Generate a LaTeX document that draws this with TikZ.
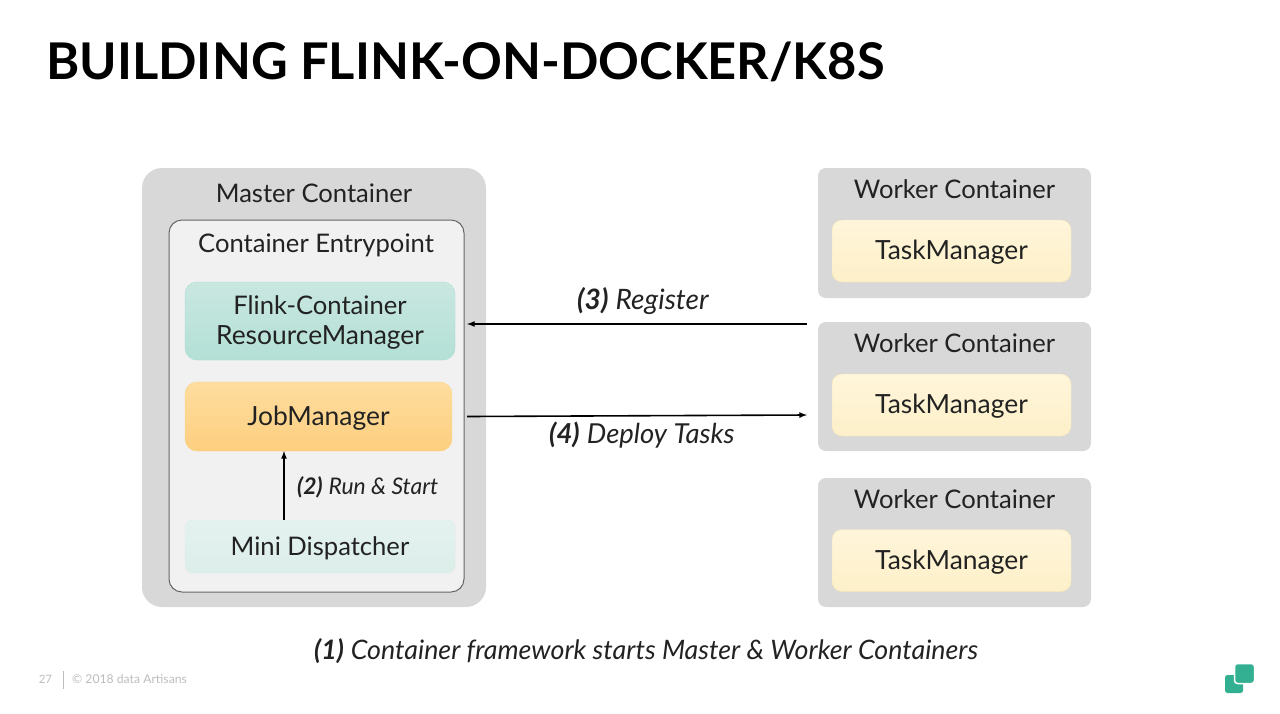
\documentclass[tikz,border=0pt]{standalone}
\usepackage{fontspec}
\setmainfont{Lato}
\definecolor{wall}{HTML}{D8D8D8}
\definecolor{entryfill}{HTML}{F1F1F1}
\definecolor{ink}{HTML}{222222}
\definecolor{foot}{HTML}{BDBDBD}
\definecolor{logo}{HTML}{33B092}
\definecolor{rmtop}{HTML}{C9E7E0}
\definecolor{rmbot}{HTML}{B3E0D6}
\definecolor{rmedge}{HTML}{A9DDD0}
\definecolor{jmtop}{HTML}{FEDD9F}
\definecolor{jmbot}{HTML}{FDCF7F}
\definecolor{jmedge}{HTML}{FBD585}
\definecolor{minitop}{HTML}{E4F2EF}
\definecolor{minibot}{HTML}{DCEEE9}
\definecolor{miniedge}{HTML}{D6ECE6}
\definecolor{tmtop}{HTML}{FFF5DA}
\definecolor{tmbot}{HTML}{FDF0C9}
\definecolor{tmedge}{HTML}{F7E7B5}
\tikzset{
	box/.style={rounded corners=#1, inner sep=0pt, outer sep=0pt, align=center, text=ink, font=\fontsize{26.4}{30}\selectfont, text height=22pt, text depth=5pt},
	wallbox/.style={box=#1, fill=wall},
	tmbox/.style={box=10pt, draw=tmedge, top color=tmtop, bottom color=tmbot, minimum width=239pt},
	caption/.style={text=ink, font=\fontsize{25.6}{30}\selectfont, inner sep=0pt, text height=24pt, text depth=5pt},
	flow/.style={draw=black, line width=1.6pt, -latex},
}
\newcommand{\step}[2]{{\bfseries\itshape #1} {\itshape #2}}
\begin{document}
\begin{tikzpicture}[x=1pt,y=-1pt]
	\useasboundingbox (0,0) rectangle (1280,713);
	\path (46,62) node (title) [anchor=west, inner sep=0pt, text=black, font=\fontsize{50.6}{52}\selectfont\bfseries] {BUILDING FLINK-ON-DOCKER/K8S};

	\path (314,387.5) node (master) [wallbox=20pt, minimum width=344pt, minimum height=439pt] {};
	\path (314,193) node (masterlabel) [caption] {Master Container};
	\path (316.5,406) node (entry) [box=13pt, draw=black!60, line width=1pt, fill=entryfill, minimum width=295pt, minimum height=372pt] {};
	\path (316,243) node (entrylabel) [caption] {Container Entrypoint};
	\path (320,321) node (rm) [box=12pt, draw=rmedge, top color=rmtop, bottom color=rmbot, minimum width=270pt, minimum height=78pt] {};
	\path (320,305) node (rmlabela) [caption] {Flink-Container};
	\path (320,335) node (rmlabelb) [caption, font=\fontsize{26.4}{30}\selectfont] {ResourceManager};
	\path (318.5,416.5) node (jm) [box=12pt, draw=jmedge, top color=jmtop, bottom color=jmbot, minimum width=267pt, minimum height=69pt] {JobManager};
	\path (320,546.5) node (mini) [box=8pt, draw=miniedge, top color=minitop, bottom color=minibot, minimum width=270pt, minimum height=53pt, font=\fontsize{25.6}{30}\selectfont] {Mini Dispatcher};

	\foreach \name/\cy/\ch/\ly/\ty in {workera/233/130/189/251,workerb/386.5/129/343/405,workerc/542.5/129/499/560.5}{
		\path (954.5,\cy) node (\name) [wallbox=8pt, minimum width=273pt, minimum height=\ch pt] {};
		\path (954.5,\ly) node (\name label) [caption] {Worker Container};
		\path (951.5,\ty) node (\name tm) [tmbox, minimum height=62pt] {TaskManager};
	}

	\draw [flow] ([xshift=-36]mini.north) -- ([xshift=-34.5]jm.south);
	\draw [flow] ([shift={(-11,2)}]workerb.north west) -- ([shift={(3,-82)}]entry.east);
	\draw [flow] ([xshift=3]entry.east |- jm.east) -- ([shift={(-11,-36)}]workerb.south west);

	\path (297,486) node (runlabel) [caption, anchor=west, font=\fontsize{22.9}{24}\selectfont, text height=22pt] {\step{(2)}{Run \& Start}};
	\path (577,300) node (reglabel) [caption, anchor=west, font=\fontsize{28.1}{30}\selectfont] {\step{(3)}{Register}};
	\path (549,434) node (deploylabel) [caption, anchor=west, font=\fontsize{27.5}{30}\selectfont] {\step{(4)}{Deploy Tasks}};
	\path (314,650) node (framelabel) [caption, anchor=west, font=\fontsize{26.8}{30}\selectfont] {\step{(1)}{Container framework starts Master \& Worker Containers}};

	\path (45.5,679.5) node (pagenum) [text=foot, inner sep=0pt, font=\fontsize{11.5}{14}\selectfont] {27};
	\path (63.5,680) node (footbar) [fill=foot, inner sep=0pt, minimum width=1.6pt, minimum height=18pt] {};
	\path (72,679.5) node (footnote) [anchor=west, text=foot, inner sep=0pt, font=\fontsize{12.2}{14}\selectfont] {© 2018 data Artisans};

	\path (1234,684) node (logoback) [fill=logo, rounded corners=2.5pt, minimum size=18pt, inner sep=0pt] {};
	\path (1244.5,673.5) node (logofront) [fill=logo, draw=white, line width=1.5pt, rounded corners=3pt, minimum size=20pt, inner sep=0pt] {};
\end{tikzpicture}
\end{document}
